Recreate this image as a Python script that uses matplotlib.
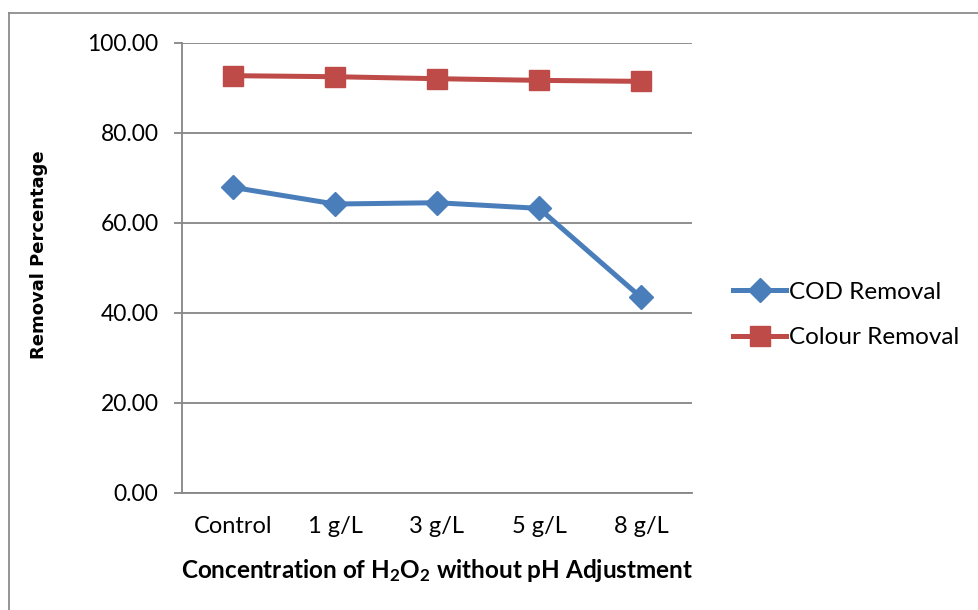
import matplotlib.pyplot as plt
from matplotlib.lines import Line2D

plt.rcParams['font.family'] = ['Lato', 'DejaVu Sans']
plt.rcParams['mathtext.fontset'] = 'custom'
plt.rcParams['mathtext.rm'] = 'Lato:bold'
plt.rcParams['mathtext.default'] = 'regular'

conc = ['Control', '1 g/L', '3 g/L', '5 g/L', '8 g/L']
cod = [67.85, 64.15, 64.44, 63.19, 43.41]
colour = [92.67, 92.44, 92.0, 91.63, 91.41]
yticks = [0, 20, 40, 60, 80, 100]

fig = plt.figure(figsize=(9.79, 6.10), dpi=100)
ax = fig.add_axes([182/979, 1 - 492.7/610, 510/979, 450/610])

x = range(len(conc))
ax.plot(x, cod, color='#4A7EBB', lw=3.6, marker='D', ms=12, label='COD Removal')
ax.plot(x, colour, color='#BE4B48', lw=3.6, marker='s', ms=14, label='Colour Removal')

ax.set_xlim(-0.5, len(conc) - 0.5)
ax.set_ylim(0, 100)
ax.set_yticks(yticks)
ax.set_yticklabels(['%.2f' % v for v in yticks])
ax.set_xticks(list(x))
ax.set_xticklabels(conc)
ax.grid(axis='y', color='#868686', lw=1.3)
ax.set_axisbelow(True)

for s in ['top', 'right']:
    ax.spines[s].set_visible(False)
ax.spines['left'].set_color('#868686')
ax.spines['bottom'].set_color('#868686')
ax.spines['left'].set_linewidth(1.3)
ax.spines['bottom'].set_linewidth(1.3)
ax.tick_params(axis='y', length=6, color='#868686', width=1.3, labelsize=16.5, pad=11)
ax.tick_params(axis='x', length=0, labelsize=17, pad=17)

ax.set_ylabel('Removal Percentage', family='DejaVu Sans', fontweight='bold', fontsize=13)
ax.yaxis.set_label_coords(-0.262, 0.53)
ax.set_xlabel('Concentration of H$_2$O$_2$ without pH Adjustment', fontweight='bold',
              fontsize=17.5, labelpad=14)

ax.legend(loc='center left', bbox_to_anchor=(1.08, 0.395), frameon=False, fontsize=17.5,
          handlelength=2.2, handletextpad=0.1, labelspacing=1.0, borderaxespad=0,
          borderpad=0)

# chart border
fig.add_artist(Line2D([9/979, 9/979], [0, 1 - 13/610], color='#8c8c8c', lw=1.3))
fig.add_artist(Line2D([9/979, 1], [1 - 13/610, 1 - 13/610], color='#8c8c8c', lw=1.3))

fig.savefig('out.png', dpi=100)
